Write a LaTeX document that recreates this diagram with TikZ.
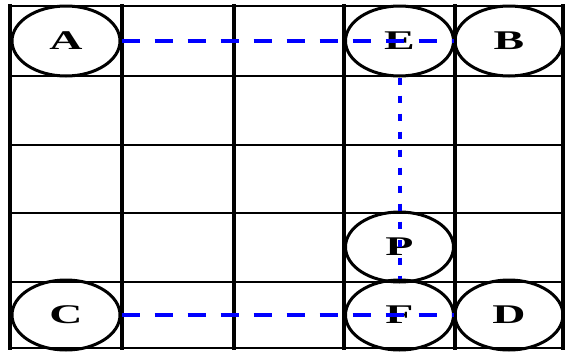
\documentclass[tikz,border=0pt]{standalone}
\usepackage{fontspec}
\setmainfont{Liberation Serif}
\usepackage{graphicx}
\usetikzlibrary{shapes.geometric}

\newcommand{\wideletter}[1]{\scalebox{1.7}[1]{#1}}

\begin{document}
\begin{tikzpicture}[x=1pt, y=-1pt,
		grid line/.style = {line width=3.4pt, line cap=rect},
		cell/.style = {shape=ellipse, draw, line width=3pt,
			minimum width=108pt, minimum height=70pt, inner sep=0pt,
			font=\bfseries\fontsize{27}{27}\selectfont},
		link/.style = {draw=blue, line width=3.6pt, dash pattern=on 18pt off 15pt},
		walk/.style = {draw=blue, line width=4pt, dash pattern=on 7pt off 11pt}]
	\useasboundingbox (0,0) rectangle (567,351);
	% grid
	\foreach \x in {10,122,234,344,455,563}
		\draw[grid line] (\x,6) -- (\x,348);
	\foreach \y in {6,76,145,213,282,348}
		\draw[grid line, line width=2.8pt] (10,\y) -- (563,\y);
	% nodes
	\node[cell] (A) at (66,41) {\wideletter{A}};
	\node[cell] (E) at (399.5,41) {\wideletter{E}};
	\node[cell] (B) at (509,41) {\wideletter{B}};
	\node[cell] (P) at (399.5,247) {\wideletter{P}};
	\node[cell] (C) at (66,315) {\wideletter{C}};
	\node[cell] (F) at (399.5,315) {\wideletter{F}};
	\node[cell] (D) at (509,315) {\wideletter{D}};
	% paths
	\draw[link] (A) -- (B);
	\draw[link] (C) -- (D);
	\draw[walk] (E) -- (F);
\end{tikzpicture}
\end{document}
